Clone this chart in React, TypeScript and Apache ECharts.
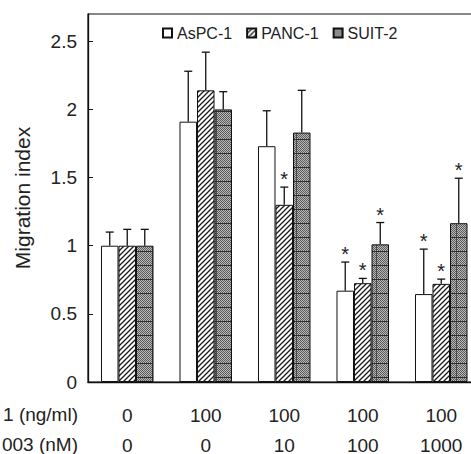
import React, { useEffect, useRef } from "react";
import * as echarts from "echarts";

// ---- data ----
const sdfDose = ["0", "100", "100", "100", "100"];
const tnDose = ["0", "0", "10", "100", "1000"];
const rowLabels = ["1 (ng/ml)", "003 (nM)"];
const seriesNames = ["AsPC-1", "PANC-1", "SUIT-2"];
const aspcMean = [1.0, 1.91, 1.73, 0.67, 0.645];
const aspcErrTop = [1.1, 2.28, 1.99, 0.88, 0.975];
const pancMean = [1.0, 2.14, 1.3, 0.725, 0.72];
const pancErrTop = [1.12, 2.42, 1.43, 0.76, 0.755];
const suitMean = [1.0, 2.0, 1.83, 1.01, 1.165];
const suitErrTop = [1.12, 2.13, 2.14, 1.17, 1.495];
const aspcSig = [0, 0, 0, 1, 1];
const pancSig = [0, 0, 1, 1, 1];
const suitSig = [0, 0, 0, 1, 1];
const yMin = 0;
const yMax = 2.7;
const yInterval = 0.5;

const BAR_RATIO = 0.223;
const FONT = "'Liberation Sans', Arial, Helvetica, sans-serif";

function hatchPattern(): HTMLCanvasElement {
  const c = document.createElement("canvas");
  c.width = 5;
  c.height = 5;
  const ctx = c.getContext("2d")!;
  ctx.fillStyle = "#ffffff";
  ctx.fillRect(0, 0, 5, 5);
  ctx.strokeStyle = "#1a1a1a";
  ctx.lineWidth = 1.3;
  ctx.beginPath();
  ctx.moveTo(-1, 6);
  ctx.lineTo(6, -1);
  ctx.moveTo(-1, 1);
  ctx.lineTo(1, -1);
  ctx.moveTo(4, 6);
  ctx.lineTo(6, 4);
  ctx.stroke();
  return c;
}

function meshPattern(): HTMLCanvasElement {
  const c = document.createElement("canvas");
  c.width = 16;
  c.height = 14;
  const ctx = c.getContext("2d")!;
  for (let y = 0; y < 14; y++) {
    for (let x = 0; x < 16; x++) {
      ctx.fillStyle = (x + y) % 2 === 0 ? "#5c5c5c" : "#b8b8b8";
      ctx.fillRect(x, y, 1, 1);
    }
  }
  ctx.fillStyle = "#2e2e2e";
  ctx.fillRect(0, 13, 16, 1);
  ctx.fillStyle = "#4a4a4a";
  ctx.fillRect(8, 0, 1, 13);
  return c;
}

export default function App() {
  const ref = useRef<HTMLDivElement>(null);

  useEffect(() => {
    if (!ref.current) return;
    const chart = echarts.init(ref.current, undefined, { renderer: "svg" });

    const hatch = { image: hatchPattern(), repeat: "repeat" } as any;
    const mesh = { image: meshPattern(), repeat: "repeat" } as any;
    const fills = ["#ffffff", hatch, mesh];
    const means = [aspcMean, pancMean, suitMean];
    const tops = [aspcErrTop, pancErrTop, suitErrTop];
    const sigs = [aspcSig, pancSig, suitSig];

    const errData: number[][] = [];
    for (let k = 0; k < 3; k++) {
      for (let i = 0; i < sdfDose.length; i++) {
        errData.push([i, k, means[k][i], tops[k][i], sigs[k][i]]);
      }
    }

    const barSeries = seriesNames.map((name, k) => ({
      name,
      type: "bar",
      data: means[k],
      barWidth: BAR_RATIO * 100 + "%",
      barGap: "0%",
      itemStyle: { color: fills[k], borderColor: "#111", borderWidth: 1 },
    }));

    chart.setOption({
      animation: false,
      backgroundColor: "#ffffff",
      textStyle: { fontFamily: FONT },
      grid: {
        left: 88,
        right: -9.5,
        top: 14,
        bottom: 72,
        outerBoundsMode: "none",
        containLabel: false,
        show: true,
        borderColor: "#111",
        borderWidth: 1.2,
        backgroundColor: "transparent",
      },
      legend: {
        data: seriesNames,
        left: 157,
        top: 20,
        itemWidth: 9,
        itemHeight: 9,
        itemGap: 14,
        icon: "rect",
        textStyle: { fontSize: 16, color: "#222", fontFamily: FONT },
      },
      xAxis: {
        type: "category",
        data: sdfDose.map((d, i) => d + "\n" + tnDose[i]),
        axisLine: { lineStyle: { color: "#111", width: 1.3 } },
        axisTick: { show: false },
        axisLabel: {
          fontSize: 19,
          color: "#222",
          lineHeight: 30,
          margin: 18,
          fontFamily: FONT,
        },
        splitLine: { show: false },
      },
      yAxis: {
        type: "value",
        min: yMin,
        max: yMax,
        interval: yInterval,
        name: "Migration index",
        nameLocation: "middle",
        nameGap: 55,
        nameTextStyle: { fontSize: 21, color: "#222", fontFamily: FONT },
        axisLine: { show: true, lineStyle: { color: "#111", width: 1.3 } },
        axisTick: { show: true, inside: true, length: 5, lineStyle: { color: "#111" } },
        axisLabel: {
          fontSize: 19,
          color: "#222",
          margin: 11,
          showMaxLabel: false,
          fontFamily: FONT,
        },
        splitLine: { show: false },
      },
      graphic: rowLabels.map((t, r) => ({
        type: "text",
        right: 471 - 78,
        top: 415 + r * 30 - 10,
        style: {
          text: t,
          fontSize: 19,
          fill: "#222",
          fontFamily: FONT,
          textAlign: "right",
        },
      })),
      series: [
        ...barSeries,
        {
          type: "custom",
          z: 5,
          silent: true,
          data: errData,
          renderItem: (params: any, api: any) => {
            const cat = api.value(0);
            const k = api.value(1);
            const mean = api.value(2);
            const top = api.value(3);
            const sig = api.value(4);
            const bandW = api.size([1, 0])[0];
            const barW = bandW * BAR_RATIO;
            const base = api.coord([cat, mean]);
            const x = base[0] + (k - 1) * barW;
            const yTop = api.coord([cat, top])[1];
            const stroke = { stroke: "#111", lineWidth: 1.3 };
            const children: any[] = [
              { type: "line", shape: { x1: x, y1: base[1], x2: x, y2: yTop }, style: stroke },
              { type: "line", shape: { x1: x - 4, y1: yTop, x2: x + 4, y2: yTop }, style: stroke },
            ];
            if (sig) {
              children.push({
                type: "text",
                style: {
                  text: "*",
                  x,
                  y: yTop - 8,
                  textAlign: "center",
                  textVerticalAlign: "middle",
                  fontSize: 20,
                  fill: "#222",
                  fontFamily: FONT,
                },
              });
            }
            return { type: "group", children };
          },
        },
      ],
    } as any);

    return () => chart.dispose();
  }, []);

  return (
    <div
      ref={ref}
      style={{ position: "fixed", left: 0, top: 0, width: 471, height: 454 }}
    />
  );
}
